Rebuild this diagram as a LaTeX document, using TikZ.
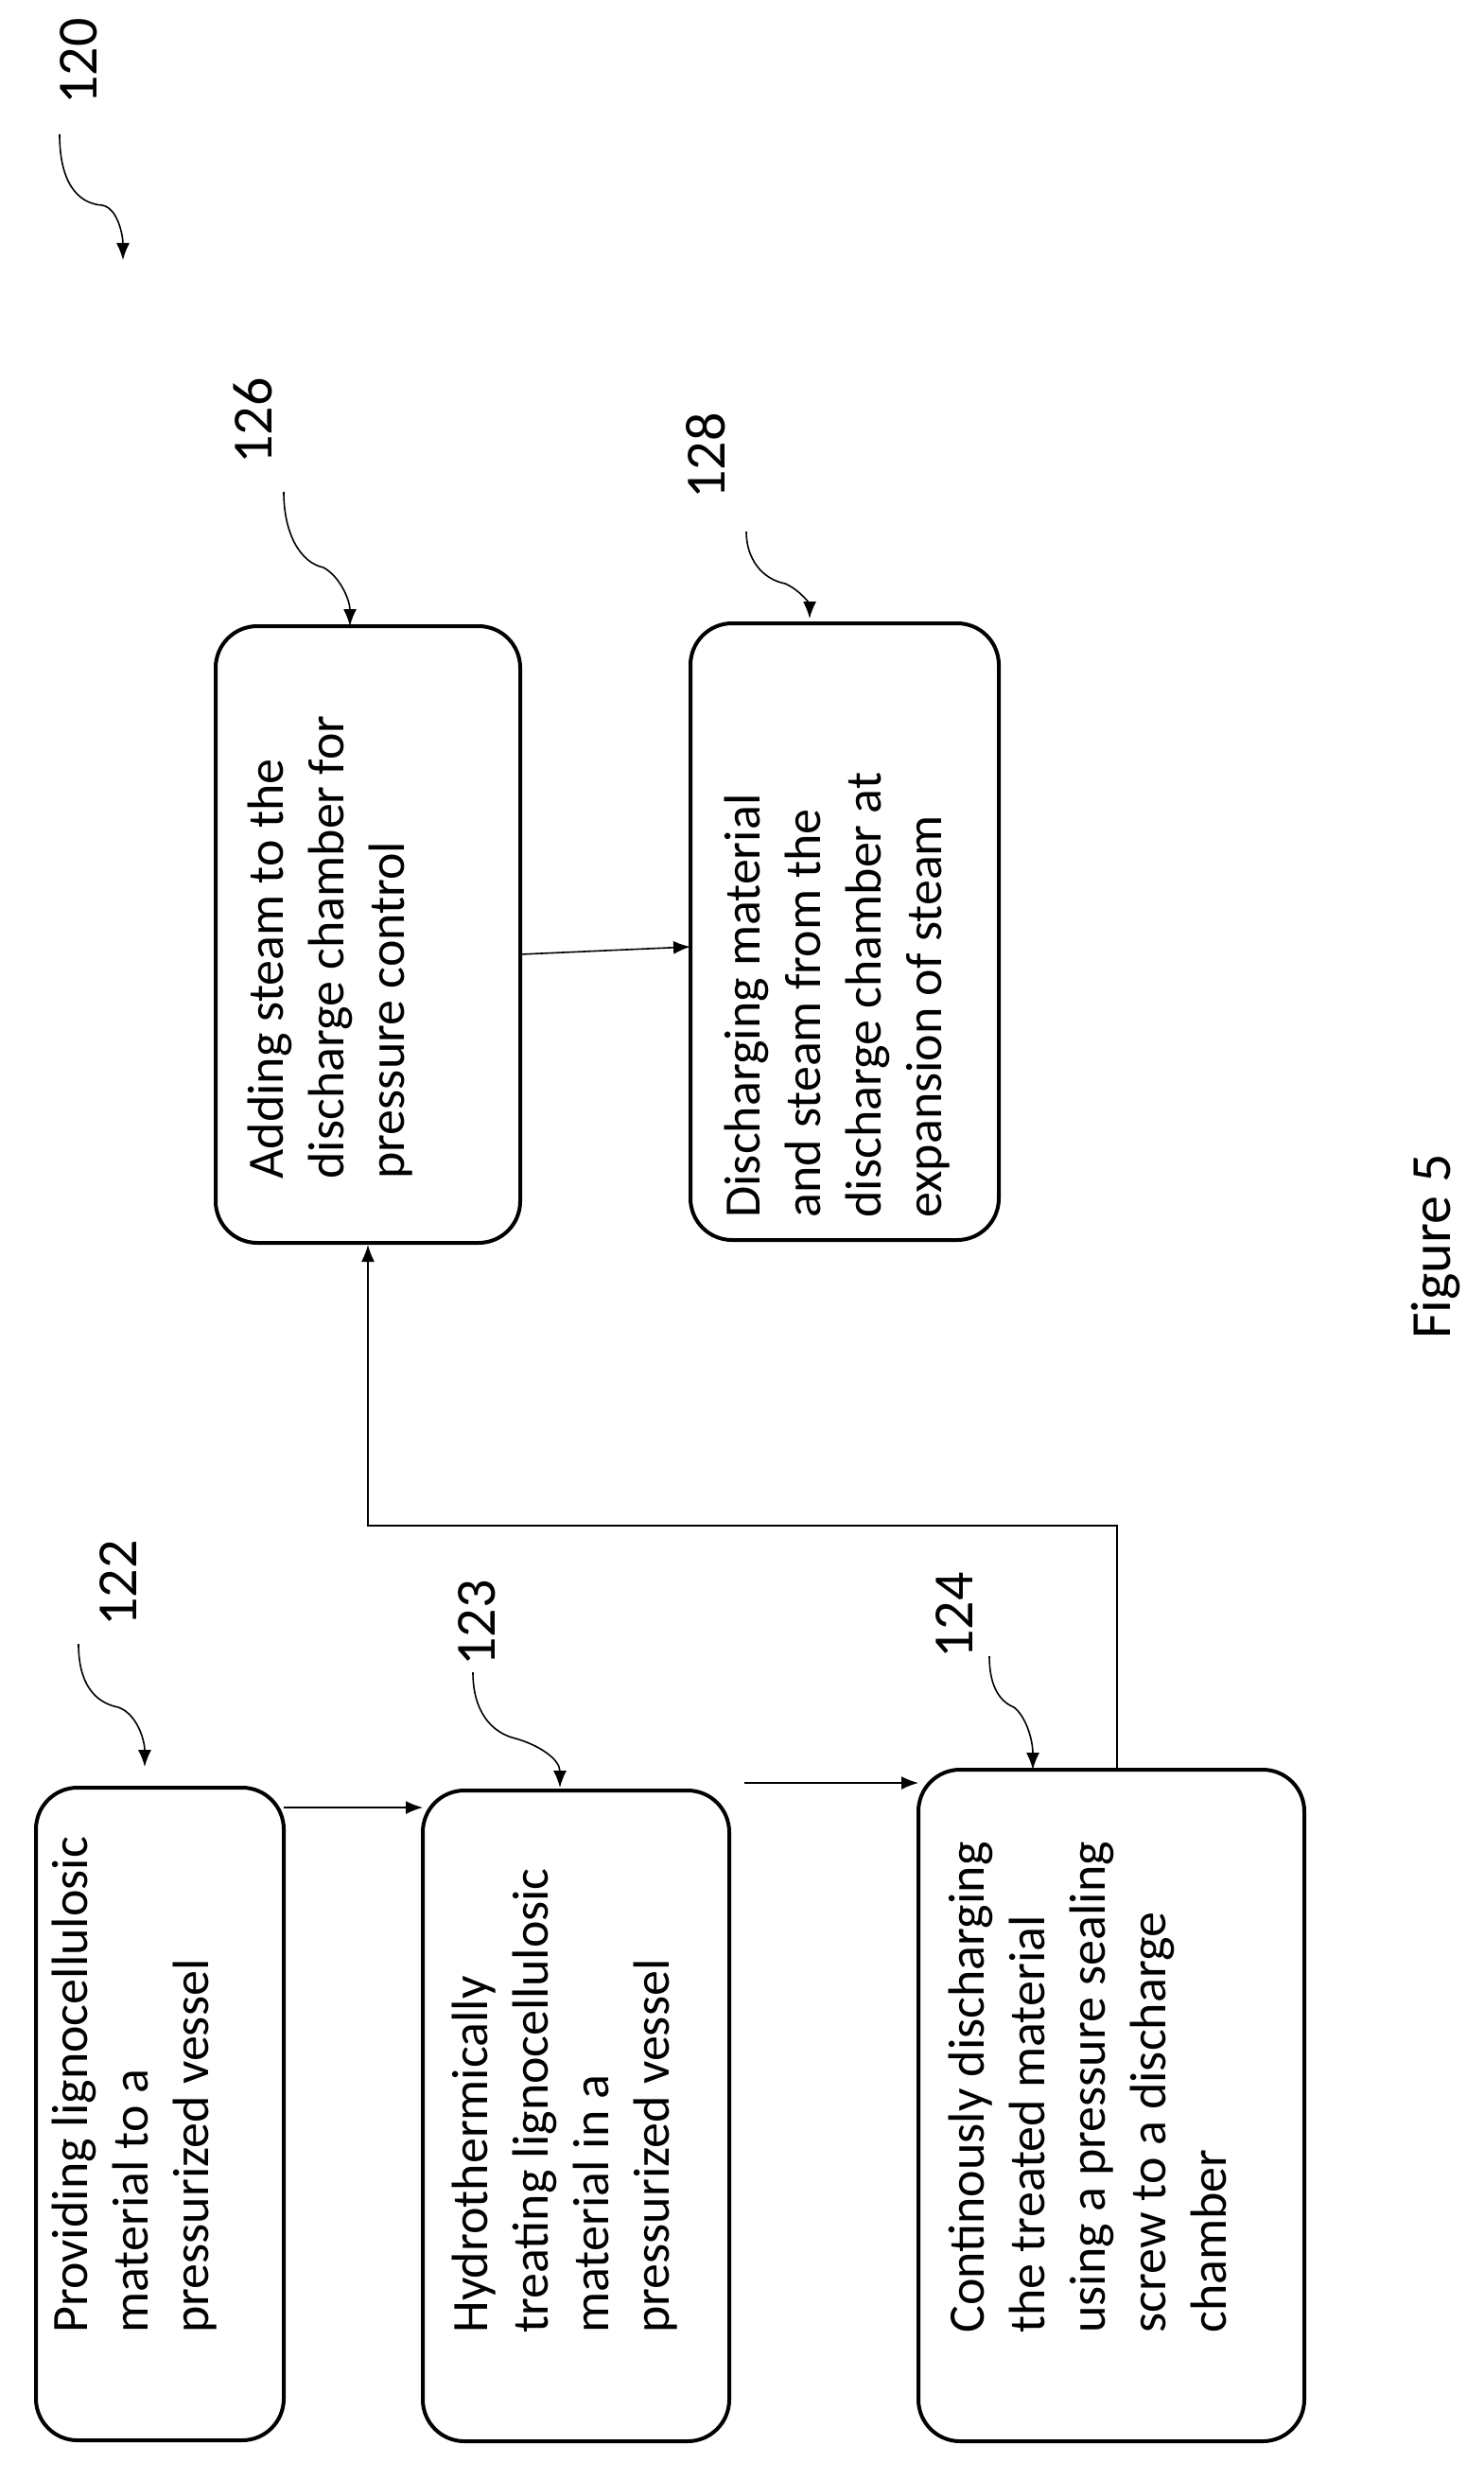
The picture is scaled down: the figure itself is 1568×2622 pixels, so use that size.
\documentclass[tikz,border=0pt]{standalone}
\usepackage{fontspec}
\setmainfont{Carlito}
\usetikzlibrary{arrows.meta}
\begin{document}
\begin{tikzpicture}[x=0.5pt,y=-0.5pt,
  box/.style={draw,line width=2pt,rounded corners=22pt,inner sep=0},
  txt/.style={rotate=90,anchor=north west,align=left,inner sep=0,font=\fontsize{27}{32}\selectfont},
  lab/.style={rotate=90,inner sep=0,font=\fontsize{30}{34}\selectfont},
  arr/.style={line width=0.8pt,-{Latex[length=9pt,width=7pt]}}]
\useasboundingbox (0,0) rectangle (1568,2622);
% boxes
\node[box,minimum width=131pt,minimum height=345pt] (b122) at (169,2235) {};
\node[box,minimum width=162pt,minimum height=344pt] (b123) at (609,2237) {};
\node[box,minimum width=204pt,minimum height=355pt] (b124) at (1175,2226) {};
\node[box,minimum width=161pt,minimum height=326pt] (b126) at (389,988) {};
\node[box,minimum width=163pt,minimum height=326pt] (b128) at (893,985) {};
% texts
\node[txt] (t122) at (55,2467) {Providing lignocellulosic\\material to a\\pressurized vessel};
\node[txt] (t123) at (478,2467) {Hydrothermically\\treating lignocellulosic\\material in a\\pressurized vessel};
\node[txt] (t124) at (1003,2467) {Continously discharging\\the treated material\\using a pressure sealing\\screw to a discharge\\chamber};
\node[txt] (t126) at (262,1247) {Adding steam to the\\discharge chamber for\\pressure control};
\node[txt] (t128) at (766,1288) {Discharging material\\and steam from the\\discharge chamber at\\expansion of steam};
% connectors
\coordinate (a1) at (300,1911);
\coordinate (a2) at (447,1911);
\draw[arr] (a1) -- (a2);
\coordinate (c1) at (787,1885);
\coordinate (c2) at (971,1885);
\draw[arr] (c1) -- (c2);
\coordinate (d1) at (1181,1871);
\coordinate (d2) at (1181,1613);
\coordinate (d3) at (389,1613);
\draw[arr] (d1) -- (d2) -- (d3) -- (b126.south);
\coordinate (e1) at (550,1009);
\coordinate (e2) at (730,1001);
\draw[arr] (e1) -- (e2);
% labels
\node[lab] (l120) at (83,65) {120};
\node[lab] (l122) at (125,1674) {122};
\node[lab] (l123) at (504,1716) {123};
\node[lab] (l124) at (1009,1708) {124};
\node[lab] (l126) at (267,445) {126};
\node[lab] (l128) at (746,482) {128};
\node[lab] (fig) at (1518,1318) {Figure 5};
% curly leaders
\draw[arr] (63,142) .. controls (63,190) and (80,215) .. (108,217) .. controls (125,220) and (130,250) .. (130,275);
\draw[arr] (83,1738) .. controls (83,1780) and (100,1800) .. (125,1805) .. controls (145,1812) and (153,1840) .. (153,1868);
\draw[arr] (500,1768) .. controls (500,1810) and (520,1832) .. (545,1838) .. controls (570,1845) and (592,1860) .. (592,1890);
\draw[arr] (1046,1751) .. controls (1046,1780) and (1055,1798) .. (1072,1805) .. controls (1085,1815) and (1092,1840) .. (1092,1871);
\draw[arr] (300,520) .. controls (300,565) and (318,595) .. (342,600) .. controls (360,610) and (370,635) .. (370,662);
\draw[arr] (789,562) .. controls (789,590) and (805,612) .. (830,617) .. controls (848,625) and (856,640) .. (856,654);
\end{tikzpicture}
\end{document}
